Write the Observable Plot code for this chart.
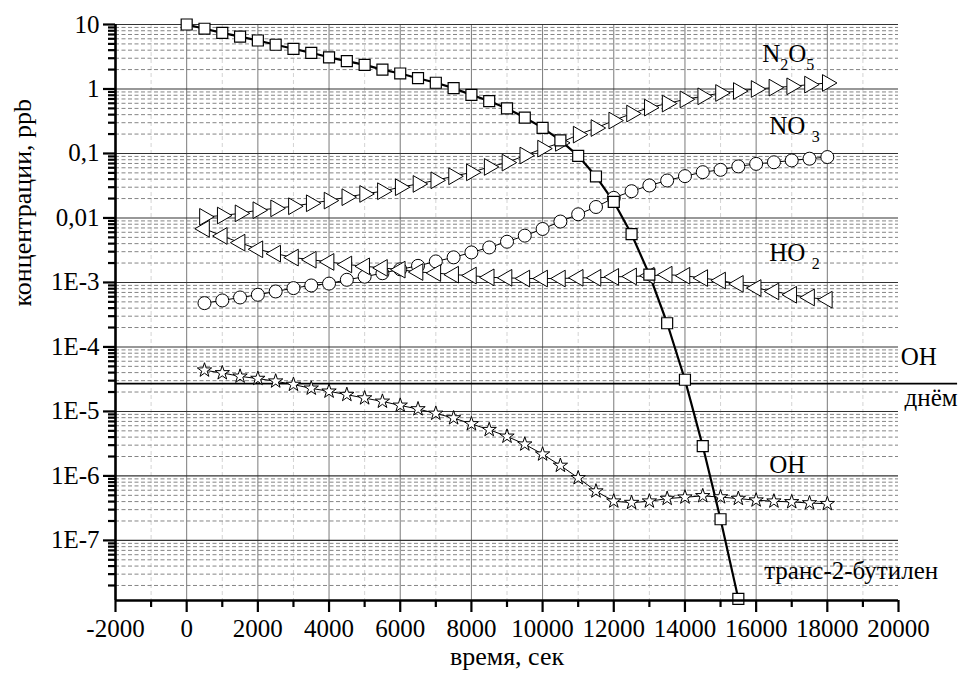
<!DOCTYPE html>
<html>
<head>
<meta charset="utf-8">
<script src="https://cdn.jsdelivr.net/npm/d3@7"></script>
<script src="https://cdn.jsdelivr.net/npm/@observablehq/plot@0.6"></script>
<style>
  body { margin: 0; background: #fff; }
</style>
</head>
<body>
<div id="chart"></div>
<script>
// ---- data ----
const timeButylene = [0,500,1000,1500,2000,2500,3000,3500,4000,4500,5000,5500,6000,6500,7000,7500,8000,8500,9000,9500,10000,10500,11000,11500,12000,12500,13000,13500,14000,14500,15000,15500];
const butylene = [10,8.6,7.4,6.5,5.65,4.85,4.2,3.64,3.1,2.7,2.37,2.0,1.74,1.47,1.25,1.03,0.81,0.65,0.5,0.36,0.25,0.16,0.092,0.044,0.0178,0.0056,0.00132,2.33e-4,3.1e-5,2.9e-6,2.13e-7,1.24e-8];

const timeRadicals = [500,1000,1500,2000,2500,3000,3500,4000,4500,5000,5500,6000,6500,7000,7500,8000,8500,9000,9500,10000,10500,11000,11500,12000,12500,13000,13500,14000,14500,15000,15500,16000,16500,17000,17500,18000];
const n2o5 = [0.0104,0.0109,0.0118,0.0132,0.0141,0.0152,0.0169,0.0186,0.021,0.0236,0.026,0.030,0.0337,0.0384,0.0443,0.051,0.0618,0.0722,0.093,0.119,0.146,0.196,0.248,0.324,0.416,0.515,0.594,0.69,0.77,0.867,0.93,1.0,1.05,1.1,1.17,1.24];
const no3 = [4.78e-4,5.26e-4,5.85e-4,6.44e-4,7.25e-4,8.17e-4,8.98e-4,9.6e-4,1.1e-3,1.23e-3,1.39e-3,1.6e-3,1.81e-3,2.12e-3,2.45e-3,2.92e-3,3.49e-3,4.28e-3,5.32e-3,6.75e-3,8.8e-3,0.0114,0.0148,0.0205,0.026,0.0319,0.0381,0.0445,0.0513,0.0558,0.063,0.069,0.073,0.078,0.083,0.088];
const ho2 = [6.8e-3,5.26e-3,4.14e-3,3.27e-3,2.8e-3,2.43e-3,2.25e-3,2.08e-3,1.9e-3,1.78e-3,1.68e-3,1.58e-3,1.45e-3,1.4e-3,1.32e-3,1.28e-3,1.2e-3,1.18e-3,1.15e-3,1.15e-3,1.15e-3,1.18e-3,1.18e-3,1.22e-3,1.24e-3,1.27e-3,1.32e-3,1.27e-3,1.17e-3,1.07e-3,9.5e-4,8.2e-4,7.25e-4,6.45e-4,5.85e-4,5.4e-4];
const oh = [4.35e-5,3.95e-5,3.5e-5,3.23e-5,2.94e-5,2.61e-5,2.28e-5,2.05e-5,1.82e-5,1.61e-5,1.43e-5,1.24e-5,1.09e-5,9.3e-6,7.9e-6,6.4e-6,5.2e-6,4.1e-6,3.1e-6,2.17e-6,1.45e-6,9.3e-7,5.8e-7,4.05e-7,3.85e-7,4.05e-7,4.45e-7,4.67e-7,4.9e-7,4.7e-7,4.45e-7,4.2e-7,4.05e-7,3.95e-7,3.8e-7,3.7e-7];
const ohDaytime = 2.7e-5;

// axes / ticks
const xDomain = [-2000, 20000];
const yDomain = [1.17e-8, 10];
const xMajorTicks = [-2000,0,2000,4000,6000,8000,10000,12000,14000,16000,18000,20000];
const xMinorTicks = [-1000,1000,3000,5000,7000,9000,11000,13000,15000,17000,19000];
const xGridMajor = [0,2000,4000,6000,8000,10000,12000,14000,16000,18000];
const yMajorTicks = [1e-7,1e-6,1e-5,1e-4,1e-3,0.01,0.1,1,10];
const yTickLabels = ["1E-7","1E-6","1E-5","1E-4","1E-3","0,01","0,1","1","10"];
const yMinorMultipliers = [2,3,4,5,6,7,8,9];
const yMinorDecades = [1e-8,1e-7,1e-6,1e-5,1e-4,1e-3,0.01,0.1,1];

// annotations
const labelNames = ["N_2O_5","NO _3","HO _2","OH","днём","OH","транс-2-бутилен"];
const labelX = [16170,16370,16370,20060,20170,16370,16225];
const labelY = [3.55,0.27,2.9e-3,6.9e-5,1.6e-5,1.46e-6,3.4e-8];

// ---- build tables ----
const butTable = timeButylene.map((t, i) => ({t, v: butylene[i]}));
const mk = arr => timeRadicals.map((t, i) => ({t, v: arr[i]}));
const n2o5Table = mk(n2o5), no3Table = mk(no3), ho2Table = mk(ho2), ohTable = mk(oh);
const yMinor = yMinorDecades.flatMap(d => yMinorMultipliers.map(m => m * d)).filter(v => v > yDomain[0] && v < yDomain[1]);
const labels = labelNames.map((s, i) => ({s, x: labelX[i], y: labelY[i]}));
const ohLine = [{y: ohDaytime, x1: -2000, x2: 21660}];

const chart = Plot.plot({
  width: 958,
  height: 686,
  marginLeft: 115,
  marginRight: 60,
  marginTop: 24,
  marginBottom: 86,
  style: {background: "#fff", overflow: "visible", color: "#000"},
  x: {domain: xDomain},
  y: {type: "log", domain: yDomain},
  marks: [
    // grids
    Plot.ruleX(xMinorTicks, {stroke: "#c8c8c8", strokeDasharray: "4,3", strokeWidth: 0.8}),
    Plot.ruleX(xGridMajor, {stroke: "#7a7a7a", strokeWidth: 1}),
    Plot.ruleY(yMinor, {stroke: "#777", strokeDasharray: "4,2.5", strokeWidth: 0.9}),
    Plot.ruleY(yMajorTicks, {stroke: "#333", strokeWidth: 1.1}),
    // OH daytime level
    Plot.ruleY(ohLine, {y: "y", x1: "x1", x2: "x2", stroke: "#000", strokeWidth: 1.6}),
    // lines
    Plot.line(no3Table, {x: "t", y: "v", stroke: "#000", strokeWidth: 1}),
    Plot.line(ho2Table, {x: "t", y: "v", stroke: "#000", strokeWidth: 1}),
    Plot.line(n2o5Table, {x: "t", y: "v", stroke: "#000", strokeWidth: 1}),
    Plot.line(ohTable, {x: "t", y: "v", stroke: "#000", strokeWidth: 1}),
    Plot.line(butTable, {x: "t", y: "v", stroke: "#000", strokeWidth: 2.2}),
    // markers
    Plot.dot(no3Table, {x: "t", y: "v", symbol: "circle", r: 6.5, fill: "#fff", stroke: "#000", strokeWidth: 1}),
    Plot.dot(ho2Table, {x: "t", y: "v", symbol: "triangle", rotate: -90, r: 6.2, fill: "#fff", stroke: "#000", strokeWidth: 1}),
    Plot.dot(n2o5Table, {x: "t", y: "v", symbol: "triangle", rotate: 90, r: 6.2, fill: "#fff", stroke: "#000", strokeWidth: 1}),
    Plot.dot(ohTable, {x: "t", y: "v", symbol: "star", r: 4.5, fill: "#fff", stroke: "#000", strokeWidth: 1}),
    Plot.dot(butTable, {x: "t", y: "v", symbol: "square", r: 6.2, fill: "#fff", stroke: "#000", strokeWidth: 1.2}),
    // axis lines
    Plot.ruleX([xDomain[0]], {stroke: "#000", strokeWidth: 2.6}),
    Plot.ruleY([yDomain[0]], {stroke: "#000", strokeWidth: 2.6}),
    // axes
    Plot.axisX(xMajorTicks, {tickSize: 12, tickPadding: 7, strokeWidth: 2.2, fontSize: 25, tickFormat: d => String(d), label: null}),
    Plot.axisX(xMinorTicks, {tickSize: 7, strokeWidth: 2.2, tickFormat: () => "", label: null}),
    Plot.axisY(yMajorTicks, {tickSize: 12, tickPadding: 4, strokeWidth: 2.2, fontSize: 25, tickFormat: d => yTickLabels[yMajorTicks.indexOf(d)], label: null}),
    Plot.axisY(yMinor, {tickSize: 7, strokeWidth: 2.2, tickFormat: () => "", label: null}),
    // axis titles
    Plot.text(["время, сек"], {text: d => d, frameAnchor: "bottom", dy: 64, fontSize: 26}),
    Plot.text(["концентрации, ppb"], {text: d => d, frameAnchor: "left", dx: -93, dy: -6, rotate: -90, fontSize: 26}),
    // annotations
    Plot.text(labels, {x: "x", y: "y", text: "s", textAnchor: "start", fontSize: 25})
  ]
});

document.getElementById("chart").appendChild(chart);
chart.removeAttribute("font-family");
chart.style.setProperty("font-family", "'Liberation Serif'", "important");
chart.querySelectorAll("g, text").forEach(node => {
  if (node.hasAttribute("font-family")) node.removeAttribute("font-family");
});

chart.querySelectorAll("text").forEach(node => {
  node.style.setProperty("font-family", "'Liberation Serif'", "important");
  // subscripts in annotations (e.g. N_2O_5)
  const s = node.textContent;
  if (!s.includes("_")) return;
  node.textContent = "";
  const parts = s.split(/(_\d)/);
  let lowered = false;
  parts.forEach(p => {
    if (!p) return;
    const ts = document.createElementNS("http://www.w3.org/2000/svg", "tspan");
    if (p.startsWith("_")) {
      ts.textContent = p.slice(1);
      ts.setAttribute("font-size", "16");
      ts.setAttribute("dy", "8");
      lowered = true;
    } else {
      ts.textContent = p;
      if (lowered) { ts.setAttribute("dy", "-8"); lowered = false; }
    }
    node.appendChild(ts);
  });
});
</script>
</body>
</html>
